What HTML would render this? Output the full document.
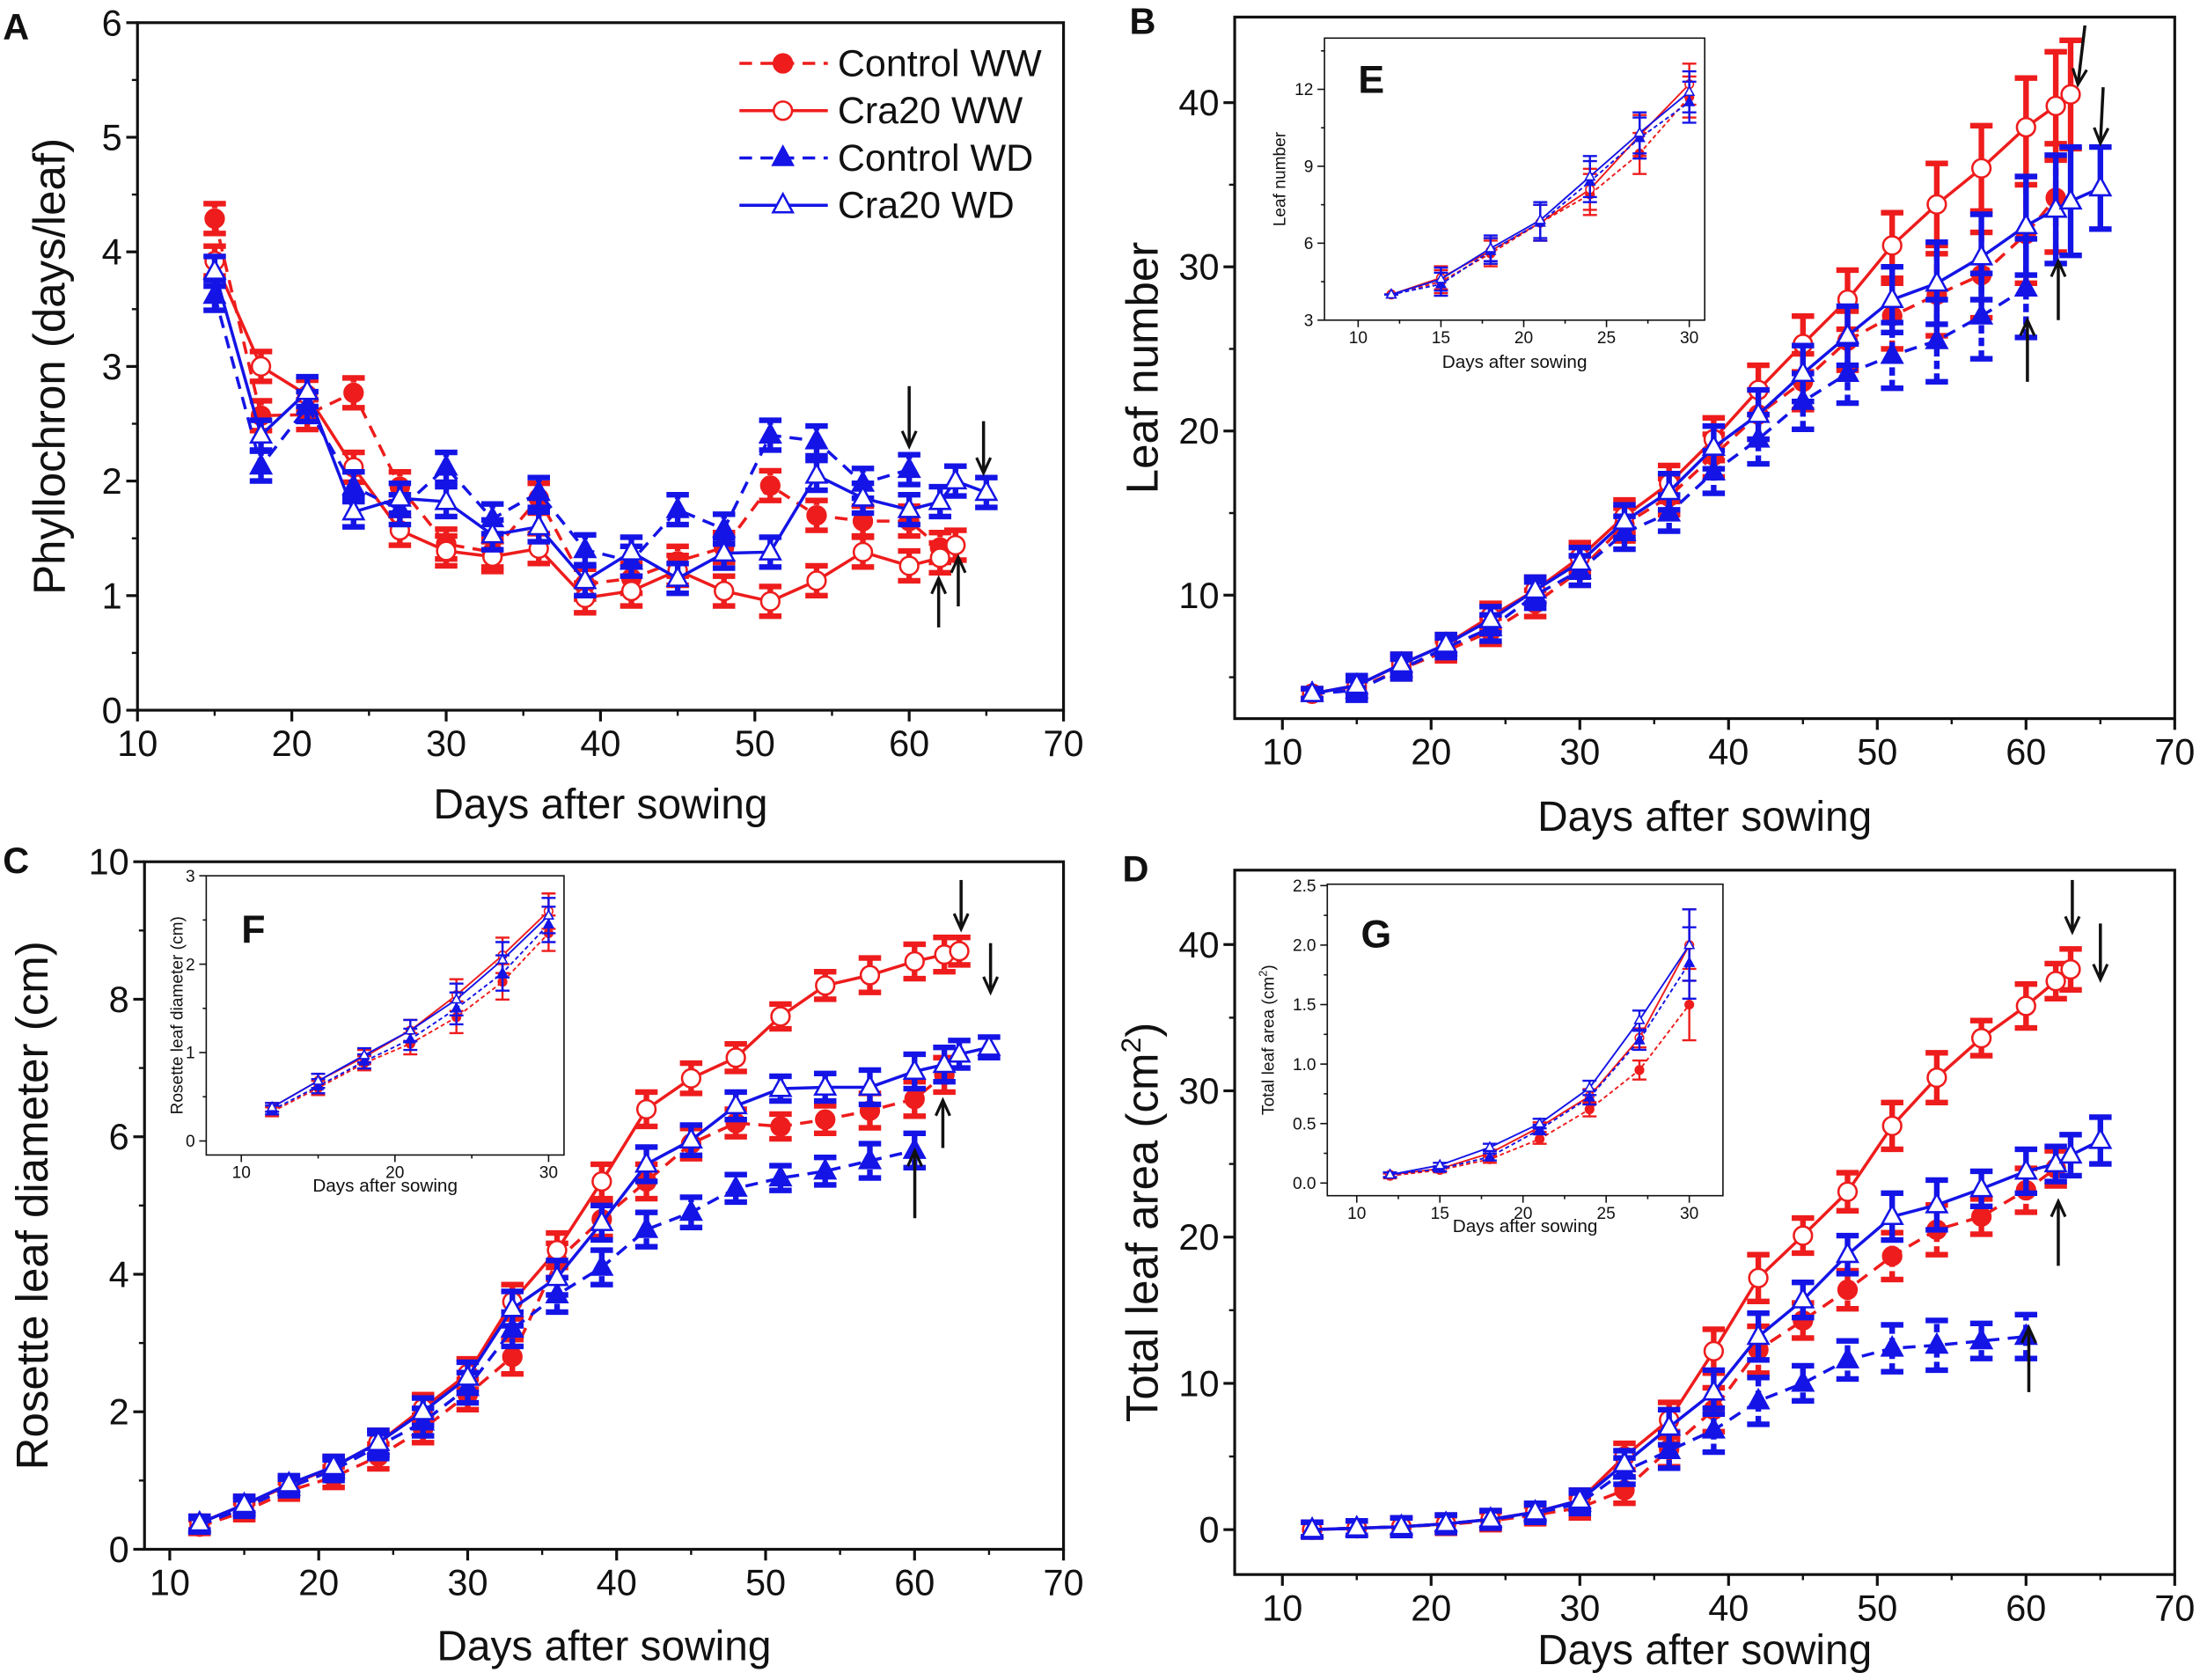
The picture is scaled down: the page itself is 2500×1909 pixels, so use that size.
<!DOCTYPE html>
<html><head><meta charset="utf-8"><style>
html,body{margin:0;padding:0;background:#fff}
svg{display:block}
text{font-family:"Liberation Sans Narrow","Liberation Sans",sans-serif;fill:#111}
</style></head><body>
<svg id="fig" xmlns="http://www.w3.org/2000/svg" width="2500" height="1909" viewBox="0 0 1568 1197"></svg>
<script>
// ---------- Panel A: Phyllochron ----------
const A_days_cww=[15,18,21,24,27,30,33,36,39,42,45,48,51,54,57,60,62];
const A_cww=[4.29,2.57,2.58,2.77,1.95,1.45,1.38,1.85,1.1,1.15,1.3,1.42,1.96,1.7,1.65,1.65,1.42];
const A_days_rww=[15,18,21,24,27,30,33,36,39,42,45,48,51,54,57,60,62,63];
const A_rww=[3.92,3.0,2.75,2.12,1.57,1.39,1.34,1.41,0.98,1.04,1.22,1.04,0.95,1.13,1.38,1.26,1.33,1.44];
const A_days_cwd=[15,18,21,24,27,30,33,36,39,42,45,48,51,54,57,60];
const A_cwd=[3.62,2.13,2.65,1.95,1.75,2.12,1.67,1.9,1.4,1.3,1.75,1.58,2.4,2.35,1.98,2.1];
const A_days_rwd=[15,18,21,24,27,30,33,36,39,42,45,48,51,54,57,60,62,63,65];
const A_rwd=[3.83,2.4,2.78,1.73,1.85,1.82,1.53,1.6,1.13,1.38,1.15,1.37,1.38,2.05,1.85,1.75,1.82,2.0,1.9];
const A_err=0.13;
// ---------- Panel B: Leaf number ----------
const B_days=[12,15,18,21,24,27,30,33,36,39,42,45,48,51,54,57,60,62,63,65];
const B_rww=[4,4.5,5.8,7,8.7,10.3,12.3,14.8,16.8,19.5,22.5,25.3,28,31.3,33.8,36,38.5,39.8,40.5];
const B_cww=[4,4.3,5.5,6.6,7.8,9.5,11.5,14.3,16,18.5,21,23,25.5,27,28.3,29.5,32,34.2];
const B_cwd=[4,4.2,5.5,6.8,8,10,11.5,13.8,15,17.5,19.5,21.8,23.5,24.6,25.5,27,28.7];
const B_rwd=[4,4.5,5.8,7,8.5,10.3,12,14.5,16.3,19,21,23.5,25.8,28,29,30.6,32.5,33.5,34,34.8];
const B_err=[0.3,0.6,0.6,0.6,0.8,0.8,0.9,1,1.1,1.3,1.5,1.7,1.8,2,2.5,2.6,3,3.3,3.3,2.5];
// ---------- Panel C: Rosette diameter ----------
const C_rww=[0.38,0.65,0.93,1.2,1.55,2.05,2.55,3.6,4.35,5.35,6.4,6.85,7.15,7.75,8.2,8.35,8.55,8.65,8.7];
const C_cww=[0.33,0.55,0.85,1.05,1.35,1.75,2.25,2.8,4.2,4.8,5.35,5.9,6.2,6.15,6.25,6.38,6.55,6.9];
const C_cwd=[0.35,0.6,0.9,1.15,1.5,1.85,2.35,3.2,3.7,4.1,4.65,4.9,5.25,5.4,5.5,5.65,5.8];
const C_rwd=[0.38,0.65,0.95,1.2,1.55,2.0,2.5,3.5,3.95,4.75,5.6,5.95,6.45,6.7,6.72,6.72,6.95,7.05,7.2,7.3];
const C_err=[0.1,0.12,0.12,0.15,0.18,0.2,0.22,0.25,0.25,0.25,0.25,0.22,0.2,0.18,0.2,0.25,0.25,0.25,0.2,0.15];
// ---------- Panel D: Total leaf area ----------
const D_rww=[0,0.1,0.2,0.4,0.7,1.2,2,5,7.5,12.2,17.2,20.1,23.1,27.6,30.9,33.6,35.8,37.5,38.3];
const D_cww=[0,0.1,0.2,0.35,0.6,1.0,1.5,2.7,5.5,8.2,12.3,14.3,16.4,18.7,20.5,21.4,23.2,24.7];
const D_cwd=[0,0.1,0.2,0.4,0.7,1.1,1.8,4,5.4,6.8,8.8,10,11.6,12.4,12.6,12.9,13.2];
const D_rwd=[0,0.1,0.2,0.4,0.7,1.2,2,4.5,7,9.4,13.2,15.7,18.8,21.4,22.2,23.3,24.5,25,25.6,26.6];
const D_err=[0.5,0.5,0.6,0.6,0.6,0.6,0.7,0.9,1.2,1.5,1.6,1.2,1.3,1.6,1.7,1.2,1.5,1.2,1.4,1.6];
// ---------- Insets ----------
const I_days=[12,15,18,21,24,27,30];
const E_rww=[4,4.65,5.7,6.8,8.1,10.2,12.2];
const E_cww=[4,4.5,5.6,6.8,7.9,9.5,11.7];
const E_cwd=[4,4.4,5.7,6.8,8.4,10.1,11.5];
const E_rwd=[4,4.6,5.8,6.9,8.6,10.3,11.9];
const E_err=[0,0.45,0.5,0.7,0.8,0.8,0.8];
const F_rww=[0.38,0.68,0.95,1.25,1.65,2.1,2.6];
const F_cww=[0.33,0.6,0.88,1.1,1.4,1.8,2.35];
const F_cwd=[0.35,0.62,0.9,1.15,1.5,1.9,2.45];
const F_rwd=[0.38,0.68,0.97,1.25,1.6,2.05,2.55];
const F_err=[0.05,0.08,0.08,0.12,0.18,0.2,0.2];
const G_rww=[0.07,0.12,0.25,0.47,0.73,1.22,2.0];
const G_cww=[0.06,0.11,0.2,0.37,0.62,0.95,1.5];
const G_cwd=[0.07,0.12,0.22,0.45,0.72,1.2,1.85];
const G_rwd=[0.07,0.15,0.3,0.5,0.8,1.37,2.0];
const G_err=[0.02,0.02,0.03,0.04,0.06,0.08,0.3];

const NS='http://www.w3.org/2000/svg';
const svg=document.getElementById('fig');
function el(tag,attrs,parent,txt){const e=document.createElementNS(NS,tag);for(const k in attrs)e.setAttribute(k,attrs[k]);if(txt!==undefined)e.textContent=txt;(parent||svg).appendChild(e);return e;}
const RED='#ee1c1c',BLUE='#1414e6';

function panel(cfg){
  const g=el('g',{});
  
  
  const X=v=>cfg.px0+(v-cfg.x0)*(cfg.px1-cfg.px0)/(cfg.x1-cfg.x0);
  const Y=v=>cfg.py0+(v-cfg.y0)*(cfg.py1-cfg.py0)/(cfg.y1-cfg.y0);
  const f=cfg.frame;
  const fr=el('rect',{x:f[0],y:f[1],width:f[2]-f[0],height:f[3]-f[1],fill:'#fff',stroke:'#111','stroke-width':cfg.small?1:2},g);
  
  const tl=cfg.small?5:8, fs=cfg.small?12:26;
  cfg.xt.forEach(v=>{const x=X(v);el('line',{x1:x,x2:x,y1:f[3],y2:f[3]+tl,stroke:'#111','stroke-width':cfg.small?1:2},g);
    const t=el('text',{x:x,y:f[3]+tl+fs*0.95,'font-size':fs,'text-anchor':'middle'},g,String(v));
    });
  cfg.xm.forEach(v=>{const x=X(v);el('line',{x1:x,x2:x,y1:f[3],y2:f[3]+tl/2,stroke:'#111','stroke-width':cfg.small?1:1.5},g);});
  cfg.yt.forEach((v,i)=>{const y=Y(v);el('line',{x1:f[0]-tl,x2:f[0],y1:y,y2:y,stroke:'#111','stroke-width':cfg.small?1:2},g);
    const t=el('text',{x:f[0]-tl-3,y:y+fs*0.35,'font-size':fs,'text-anchor':'end'},g,cfg.ytl?cfg.ytl[i]:String(v));
    });
  cfg.ym.forEach(v=>{const y=Y(v);el('line',{x1:f[0]-tl/2,x2:f[0],y1:y,y2:y,stroke:'#111','stroke-width':cfg.small?1:1.5},g);});
  const xl=el('text',{x:(f[0]+f[2])/2,y:cfg.xlY,'font-size':cfg.small?13:30,'text-anchor':'middle'},g,'Days after sowing');
  
  const yl=el('text',{x:0,y:0,'font-size':cfg.small?12:32,'text-anchor':'middle',transform:`translate(${cfg.ylX},${(f[1]+f[3])/2}) rotate(-90)`},g);
  
  yl.innerHTML=cfg.ylab;
  const lt=el('text',{x:cfg.letter[0],y:cfg.letter[1],'font-size':cfg.small?28:26,'font-weight':'bold','font-family':'Liberation Sans'},g,cfg.letterT);
  
  const r=cfg.small?3:6.5, lw=cfg.small?1.2:2.2, ew=cfg.small?1.5:4, cw=cfg.small?5:8;
  cfg.series.forEach(se=>{
    const sg=el('g',{},g);
    
    const col=se.red?RED:BLUE;
    const pts=se.y.map((v,i)=>[X(se.x[i]),Y(v)]);
    el('polyline',{points:pts.map(p=>p.join(',')).join(' '),fill:'none',stroke:col,'stroke-width':lw,'stroke-dasharray':se.dash?(cfg.small?'3,2':'9,6'):'none'},sg);
    se.y.forEach((v,i)=>{
      const e=Array.isArray(se.err)?se.err[i]:se.err;
      const x=X(se.x[i]),y1=Y(v-e),y2=Y(v+e);
      el('line',{x1:x,x2:x,y1:y1,y2:y2,stroke:col,'stroke-width':ew,'stroke-dasharray':se.dash&&!cfg.small?'6,3':'none'},sg);
      el('line',{x1:x-cw,x2:x+cw,y1:y1,y2:y1,stroke:col,'stroke-width':ew},sg);
      el('line',{x1:x-cw,x2:x+cw,y1:y2,y2:y2,stroke:col,'stroke-width':ew},sg);
    });
    se.y.forEach((v,i)=>{
      const x=X(se.x[i]),y=Y(v);let m;
      if(se.tri) m=el('polygon',{points:`${x},${y-r*1.2} ${x-r*1.1},${y+r*0.8} ${x+r*1.1},${y+r*0.8}`,fill:se.fill?col:'#fff',stroke:col,'stroke-width':cfg.small?1:1.6},sg);
      else m=el('circle',{cx:x,cy:y,r:r,fill:se.fill?col:'#fff',stroke:col,'stroke-width':cfg.small?1:1.6},sg);
      
    });
  });
  (cfg.arrows||[]).forEach(a=>{const ag=el('g',{},g);
    
    el('line',{x1:a[0],y1:a[1],x2:a[2],y2:a[3],stroke:'#111','stroke-width':2.2},ag);
    const dx=a[2]-a[0],dy=a[3]-a[1],L=Math.hypot(dx,dy),ux=dx/L,uy=dy/L;
    el('polyline',{points:`${a[2]-uy*5-ux*11},${a[3]+ux*5-uy*11} ${a[2]},${a[3]} ${a[2]+uy*5-ux*11},${a[3]-ux*5-uy*11}`,fill:'none',stroke:'#111','stroke-width':2},ag);});
  return {g,X,Y};
}
const sub=(n)=>B_days.slice(0,n);
const S=(y,err,key,red,fill,tri,dash)=>({x:sub(y.length),y,err:Array.isArray(err)?err.slice(0,y.length):err,key,red,fill,tri,dash});

panel({name:'panel-a',frame:[98,16,758,506],x0:10,x1:70,px0:98,px1:758,y0:0,y1:6,py0:506,py1:16,
  xt:[10,20,30,40,50,60,70],xm:[15,25,35,45,55,65],yt:[0,1,2,3,4,5,6],ym:[0.5,1.5,2.5,3.5,4.5,5.5],
  xlY:583,ylX:46,ylab:'Phyllochron (days/leaf)',letter:[2,28],letterT:'A',
  series:[
   {x:A_days_cww,y:A_cww,err:A_err,key:'control-ww',red:1,fill:1,tri:0,dash:1},
   {x:A_days_rww,y:A_rww,err:A_err,key:'cra20-ww',red:1,fill:0,tri:0,dash:0},
   {x:A_days_cwd,y:A_cwd,err:A_err,key:'control-wd',red:0,fill:1,tri:1,dash:1},
   {x:A_days_rwd,y:A_rwd,err:A_err,key:'cra20-wd',red:0,fill:0,tri:1,dash:0}],
  arrows:[[648,275,648,318],[701,300,701,337],[669,447,669,412],[683,432,683,397]]});

panel({name:'panel-b',frame:[880,12,1550,512],x0:10,x1:70,px0:914,px1:1550,y0:10,y1:40,py0:424,py1:73,
  xt:[10,20,30,40,50,60,70],xm:[15,25,35,45,55,65],yt:[10,20,30,40],ym:[5,15,25,35],
  xlY:592,ylX:825,ylab:'Leaf number',letter:[805,24],letterT:'B',
  series:[S(B_cww,B_err,'control-ww',1,1,0,1),S(B_rww,B_err,'cra20-ww',1,0,0,0),S(B_cwd,B_err,'control-wd',0,1,1,1),S(B_rwd,B_err,'cra20-wd',0,0,1,0)],
  arrows:[[1486,18,1481,60],[1499,62,1497,102],[1467,228,1467,186],[1445,272,1445,228]]});

panel({name:'panel-c',frame:[103,614,758,1104],x0:10,x1:70,px0:121,px1:758,y0:0,y1:10,py0:1104,py1:614,
  xt:[10,20,30,40,50,60,70],xm:[15,25,35,45,55,65],yt:[0,2,4,6,8,10],ym:[1,3,5,7,9],
  xlY:1183,ylX:34,ylab:'Rosette leaf diameter (cm)',letter:[2,622],letterT:'C',
  series:[S(C_cww,C_err,'control-ww',1,1,0,1),S(C_rww,C_err,'cra20-ww',1,0,0,0),S(C_cwd,C_err,'control-wd',0,1,1,1),S(C_rwd,C_err,'cra20-wd',0,0,1,0)],
  arrows:[[685,627,685,662],[706,672,706,707],[672,818,672,784],[652,868,652,820]]});

panel({name:'panel-d',frame:[880,620,1550,1122],x0:10,x1:70,px0:914,px1:1550,y0:0,y1:40,py0:1090,py1:673,
  xt:[10,20,30,40,50,60,70],xm:[15,25,35,45,55,65],yt:[0,10,20,30,40],ym:[5,15,25,35],
  xlY:1186,ylX:825,ylab:'Total leaf area (cm<tspan dy="-12" font-size="20">2</tspan><tspan dy="12">)</tspan>',letter:[800,628],letterT:'D',
  series:[S(D_cww,D_err,'control-ww',1,1,0,1),S(D_rww,D_err,'cra20-ww',1,0,0,0),S(D_cwd,D_err,'control-wd',0,1,1,1),S(D_rwd,D_err,'cra20-wd',0,0,1,0)],
  arrows:[[1477,627,1477,664],[1497,658,1497,698],[1467,902,1467,856],[1446,992,1446,946]]});

const I=(y,err,key,red,fill,tri,dash)=>({x:I_days,y,err,key,red,fill,tri,dash});
panel({name:'inset-e',small:1,frame:[944,27,1215,228],x0:10,x1:30,px0:968,px1:1204,y0:3,y1:12,py0:228,py1:63.5,
  xt:[10,15,20,25,30],xm:[12.5,17.5,22.5,27.5],yt:[3,6,9,12],ym:[4.5,7.5,10.5,13.5],
  xlY:262,ylX:916,ylab:'Leaf number',letter:[968,66],letterT:'E',
  series:[I(E_cww,E_err,'control-ww',1,1,0,1),I(E_rww,E_err,'cra20-ww',1,0,0,0),I(E_cwd,E_err,'control-wd',0,1,1,1),I(E_rwd,E_err,'cra20-wd',0,0,1,0)]});

panel({name:'inset-f',small:1,frame:[147,624,402,823],x0:10,x1:30,px0:172,px1:391,y0:0,y1:3,py0:813,py1:624,
  xt:[10,20,30],xm:[15,25],yt:[0,1,2,3],ym:[0.5,1.5,2.5],
  xlY:849,ylX:130,ylab:'Rosette leaf diameter (cm)',letter:[172,672],letterT:'F',
  series:[I(F_cww,F_err,'control-ww',1,1,0,1),I(F_rww,F_err,'cra20-ww',1,0,0,0),I(F_cwd,F_err,'control-wd',0,1,1,1),I(F_rwd,F_err,'cra20-wd',0,0,1,0)]});

panel({name:'inset-g',small:1,frame:[946,630,1228,852],x0:10,x1:30,px0:967,px1:1204,y0:0,y1:2.5,py0:843,py1:631,
  xt:[10,15,20,25,30],xm:[12.5,17.5,22.5,27.5],yt:[0,0.5,1,1.5,2,2.5],ytl:['0.0','0.5','1.0','1.5','2.0','2.5'],ym:[0.25,0.75,1.25,1.75,2.25],
  xlY:878,ylX:908,ylab:'Total leaf area (cm<tspan dy="-5" font-size="8">2</tspan><tspan dy="5">)</tspan>',letter:[970,675],letterT:'G',
  series:[I(G_cww,G_err,'control-ww',1,1,0,1),I(G_rww,G_err,'cra20-ww',1,0,0,0),I(G_cwd,G_err,'control-wd',0,1,1,1),I(G_rwd,G_err,'cra20-wd',0,0,1,0)]});

// legend in panel A
const leg=el('g',{});


[['Control WW',1,1,0,1],['Cra20 WW',1,0,0,0],['Control WD',0,1,1,1],['Cra20 WD',0,0,1,0]].forEach((L,i)=>{
  const y=45+i*33.7, col=L[1]?RED:BLUE;
  const eg=el('g',{},leg);
  
  
  el('line',{x1:527,x2:590,y1:y,y2:y,stroke:col,'stroke-width':2.2,'stroke-dasharray':L[4]?'9,6':'none'},eg);
  if(L[3]) el('polygon',{points:`558,${y-8} 551,${y+5} 565,${y+5}`,fill:L[2]?col:'#fff',stroke:col,'stroke-width':1.6},eg);
  else el('circle',{cx:558,cy:y,r:6.5,fill:L[2]?col:'#fff',stroke:col,'stroke-width':1.6},eg);
  el('text',{x:597,y:y+9,'font-size':27},eg,L[0]);
});
</script>
</body></html>
